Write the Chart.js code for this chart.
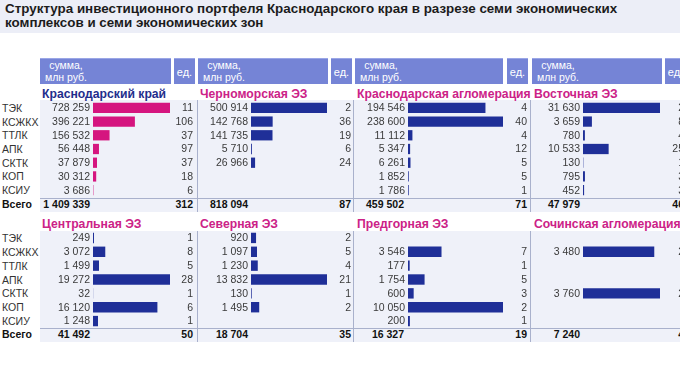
<!DOCTYPE html>
<html><head><meta charset="utf-8">
<script src="https://cdn.jsdelivr.net/npm/chart.js@4"></script>
<style>
html,body{margin:0;padding:0}
body{width:680px;height:387px;overflow:hidden;background:#fff;position:relative;font-family:"Liberation Sans",Arial,sans-serif}
.a{position:absolute;white-space:nowrap}
#band{left:0;top:0;width:680px;height:33px;background:#eceef7}
#title{left:5px;top:2px;font-weight:bold;font-size:13.4px;line-height:13.5px;color:#1c1c1c}
.hdr{background:#7584d6;border-top:1px solid #9aa6e6;color:#fff;font-size:10.5px}
.bg{background:#eff1f9}
.vline{width:1px;background:#a9b1cc}
.hline{height:1px;background:#a9b1cc}
.ptitle{font-weight:bold;font-size:12.2px;line-height:14px}
.rl{font-size:10.5px;color:#333;line-height:12px}
.tot{font-weight:bold;font-size:10.5px;color:#111;line-height:12px}
canvas{position:absolute}
</style></head><body>
<div id="band" class="a"></div>
<div id="title" class="a"></div>
<script>
// ---------- DATA ----------
const titleLines = ["Структура инвестиционного портфеля Краснодарского края в разрезе семи экономических","комплексов и семи экономических зон"];
const categories = ["ТЭК","КСЖКХ","ТТЛК","АПК","СКТК","КОП","КСИУ"];
const totalLabel = "Всего";
const headerSum = ["сумма,","млн руб."];
const headerCount = "ед.";
const zoneNames = ["Краснодарский край","Черноморская ЭЗ","Краснодарская агломерация","Восточная ЭЗ","Центральная ЭЗ","Северная ЭЗ","Предгорная ЭЗ","Сочинская агломерация"];

const kraiSum     = [728259,396221,156532,56448,37879,30312,3686];
const kraiCount   = [11,106,37,97,37,18,6];
const chernSum    = [500914,142768,141735,5710,26966,null,null];
const chernCount  = [2,36,19,6,24,null,null];
const kragSum     = [194546,238600,11112,5347,6261,1852,1786];
const kragCount   = [4,40,4,12,5,5,1];
const vostSum     = [31630,3659,780,10533,130,795,452];
const vostCount   = [2,8,4,25,1,3,3];
const centrSum    = [249,3072,1499,19272,32,16120,1248];
const centrCount  = [1,8,5,28,1,6,1];
const sevSum      = [920,1097,1230,13832,130,1495,null];
const sevCount    = [2,5,4,21,1,2,null];
const predSum     = [null,3546,177,1754,600,10050,200];
const predCount   = [null,7,1,5,3,2,1];
const sochSum     = [null,3480,null,null,3760,null,null];
const sochCount   = [null,2,null,null,2,null,null];

const totalSums   = [1409339,818094,459502,47979,41492,18704,16327,7240];
const totalCounts = [312,87,71,46,50,35,19,4];

// ---------- LAYOUT ----------
const cols = [
  {left:40, right:197, sumEnd:171, edStart:174, edEnd:195, numRight:90, barStart:93, barEnd:170, countRight:193},
  {left:198,right:353, sumEnd:328, edStart:331, edEnd:352, numRight:248,barStart:251,barEnd:327, countRight:351},
  {left:355,right:530, sumEnd:503, edStart:507, edEnd:528, numRight:404,barStart:408,barEnd:503, countRight:527},
  {left:532,right:700, sumEnd:662, edStart:665, edEnd:700, numRight:580,barStart:583,barEnd:660, countRight:684}
];
const sections = [
  {titleY:87, rowsTop:101, rowsH:96, lineY:198, totalY:198, bgTop:100, bgBot:212},
  {titleY:217,rowsTop:231, rowsH:97, lineY:328, totalY:328, bgTop:231, bgBot:342}
];
const panels = [
  {sum:kraiSum, count:kraiCount, col:0, sec:0, color:"#d5157f", tcolor:"#1f2e8c"},
  {sum:chernSum,count:chernCount,col:1, sec:0, color:"#1f2f98", tcolor:"#cc2287"},
  {sum:kragSum, count:kragCount, col:2, sec:0, color:"#1f2f98", tcolor:"#cc2287"},
  {sum:vostSum, count:vostCount, col:3, sec:0, color:"#1f2f98", tcolor:"#cc2287"},
  {sum:centrSum,count:centrCount,col:0, sec:1, color:"#1f2f98", tcolor:"#cc2287"},
  {sum:sevSum,  count:sevCount,  col:1, sec:1, color:"#1f2f98", tcolor:"#cc2287"},
  {sum:predSum, count:predCount, col:2, sec:1, color:"#1f2f98", tcolor:"#cc2287"},
  {sum:sochSum, count:sochCount, col:3, sec:1, color:"#1f2f98", tcolor:"#cc2287"}
];

const fmt = v => String(v).replace(/\B(?=(\d{3})+(?!\d))/g, " ");
function div(cls, css, html){
  const d=document.createElement('div'); d.className='a '+cls; d.style.cssText=css; if(html!==undefined) d.innerHTML=html; document.body.appendChild(d); return d;
}
document.getElementById('title').innerHTML = titleLines.join('<br>');

// backgrounds and lines
sections.forEach(s=>{
  div('bg',`left:40px;top:${s.bgTop}px;width:640px;height:${s.bgBot-s.bgTop}px`);
  div('hline',`left:40px;top:${s.lineY}px;width:640px`);
  [197,353,530].forEach(x=>div('vline',`left:${x}px;top:${s.bgTop}px;height:${s.bgBot-s.bgTop}px`));
  categories.forEach((c,i)=>{
    const yc = s.rowsTop + s.rowsH/7*(i+0.5);
    div('rl',`left:2px;top:${yc-6}px`,c);
  });
  div('tot',`left:2px;top:${s.totalY}px;height:13px;line-height:13px`,totalLabel);
});
// headers
cols.forEach(c=>{
  div('hdr',`left:${c.left}px;top:58px;width:${c.sumEnd-c.left}px;height:25px`);
  div('',`left:${c.left+3}px;top:60px;width:46px;text-align:center;color:#fff;font-size:10.5px;line-height:11.5px`,headerSum.join('<br>'));
  div('hdr',`left:${c.edStart}px;top:58px;width:${c.edEnd-c.edStart}px;height:25px`);
  div('',`left:${c.edStart}px;top:66px;width:21px;text-align:center;color:#fff;font-size:11px;line-height:12px`,headerCount);
});

const labelPlugin = {
  id:'rowLabels',
  afterDatasetsDraw(chart, args, opts){
    const ctx=chart.ctx, ys=chart.scales.y, p=opts.panel, c=cols[p.col];
    ctx.save();
    ctx.font='10.5px "Liberation Sans", Arial, sans-serif';
    ctx.fillStyle='#3a3a3a';
    ctx.textAlign='right'; ctx.textBaseline='middle';
    p.sum.forEach((v,i)=>{
      const y=ys.getPixelForValue(i);
      if(v!==null) ctx.fillText(fmt(v), chart.chartArea.left-3, y+0.5);
      if(p.count[i]!==null) ctx.fillText(String(p.count[i]), c.countRight-c.left, y+0.5);
    });
    ctx.restore();
  }
};

panels.forEach((p,k)=>{
  const c=cols[p.col], s=sections[p.sec];
  div('ptitle',`left:${c.left+2}px;top:${s.titleY}px;color:${p.tcolor}`,zoneNames[k]);
  const cv=document.createElement('canvas');
  cv.width=c.right-c.left; cv.height=s.rowsH;
  cv.style.left=c.left+'px'; cv.style.top=s.rowsTop+'px';
  document.body.appendChild(cv);
  const maxV=Math.max(...p.sum.filter(v=>v!==null));
  new Chart(cv,{
    type:'bar',
    data:{labels:categories,datasets:[{data:p.sum,backgroundColor:p.color,borderWidth:0,categoryPercentage:1,barPercentage:0.75}]},
    options:{
      indexAxis:'y',responsive:false,animation:false,devicePixelRatio:1,
      layout:{padding:{left:c.barStart-c.left,right:(c.right-c.left)-(c.barEnd-c.left),top:0,bottom:0}},
      scales:{x:{display:false,min:0,max:maxV},y:{display:false}},
      plugins:{legend:{display:false},tooltip:{enabled:false},rowLabels:{panel:p}}
    },
    plugins:[labelPlugin]
  });
  div('tot',`left:${c.numRight-80}px;top:${s.totalY}px;width:80px;text-align:right;height:13px;line-height:13px`,fmt(totalSums[k]));
  div('tot',`left:${c.countRight-40}px;top:${s.totalY}px;width:40px;text-align:right;height:13px;line-height:13px`,String(totalCounts[k]));
});
</script>
</body></html>
